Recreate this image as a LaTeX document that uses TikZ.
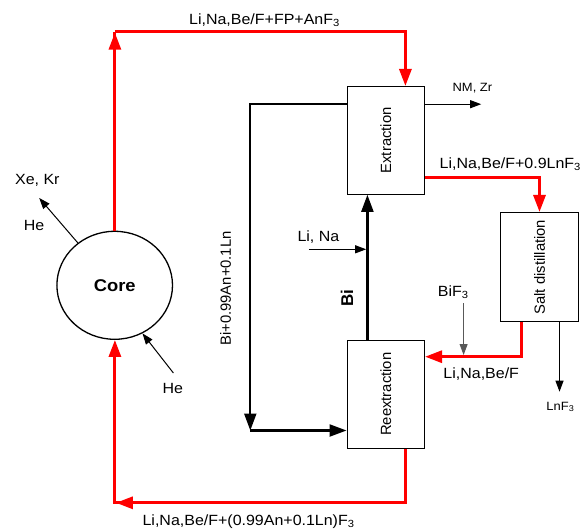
\documentclass[tikz,border=0pt]{standalone}
\usepackage{fontspec}
\setmainfont{Liberation Sans}
\usetikzlibrary{arrows.meta,shapes.geometric}
\begin{document}
\begin{tikzpicture}[x=1bp,y=-1bp,
  txt/.style={font=\fontsize{14.8bp}{17bp}\selectfont, inner sep=0pt, xscale=1.08},
  vtxt/.style={font=\fontsize{14.8bp}{17bp}\selectfont, inner sep=0pt, rotate=90},
  smalltxt/.style={font=\fontsize{12bp}{14bp}\selectfont, inner sep=0pt, xscale=1.08},
  boldtxt/.style={font=\fontsize{17bp}{20bp}\selectfont\bfseries, inner sep=0pt},
  box/.style={draw, line width=1bp, minimum width=77.5bp, inner sep=0pt},
  redflow/.style={draw=red, line width=3bp, line join=miter},
  bigtip/.style={-{Triangle[length=17bp,width=12bp]}},
  blackflow/.style={draw=black, line width=2.2bp, line join=miter},
  thinflow/.style={draw=black, line width=1bp, -{Triangle[length=11bp,width=8bp]}},
  grayflow/.style={draw=black!65, line width=1bp, -{Triangle[length=11bp,width=8bp]}}
]
\useasboundingbox (0,0) rectangle (583,529);

% nodes
\node[ellipse, draw, line width=1.3bp, minimum width=115.6bp, minimum height=108bp, inner sep=0pt] (core) at (114.7,285.3) {};
\node[boldtxt, xscale=1.08] (coretxt) at (core.center) {Core};
\node[box, minimum height=107.8bp] (ext) at (385.8,140.4) {};
\node[box, minimum height=108.3bp] (reext) at (385.8,394.2) {};
\node[box, minimum width=78bp, minimum height=109.2bp] (salt) at (539.5,267.1) {};
\node[vtxt] (exttxt) at (ext.center) {Extraction};
\node[vtxt] (reexttxt) at (reext.center) {Reextraction};
\node[vtxt] (salttxt) at (salt.center) {Salt distillation};

% labels
\node[txt] (l1) at (264.5,20.5) {Li,Na,Be/F+FP+AnF\textsubscript{3}};
\node[txt] (l2) at (510.3,164) {Li,Na,Be/F+0.9LnF\textsubscript{3}};
\node[txt] (l3) at (481.2,374.5) {Li,Na,Be/F};
\node[txt] (l4) at (248.6,521.5) {Li,Na,Be/F+(0.99An+0.1Ln)F\textsubscript{3}};
\node[smalltxt] (l5) at (472.4,88) {NM, Zr};
\node[txt] (l6) at (37.3,180) {Xe, Kr};
\node[txt] (l7) at (34.1,225) {He};
\node[txt] (l8) at (172.9,388) {He};
\node[txt] (l9) at (318.4,237) {Li, Na};
\node[txt] (l10) at (453.2,292) {BiF\textsubscript{3}};
\node[smalltxt] (l11) at (560.4,407) {LnF\textsubscript{3}};
\node[vtxt] (l12) at (225.7,288.5) {Bi+0.99An+0.1Ln};
\node[boldtxt, rotate=90] (l13) at (346.9,298) {Bi};

% coordinates
\coordinate (tl) at (114.9,31.7);
\coordinate (tr) at (405.4,31.7);
\coordinate (er) at (539.5,177.5);
\coordinate (sb) at (521.1,356.7);
\coordinate (rb) at (405.4,502.8);
\coordinate (bl) at (114.9,502.8);
\coordinate (bk1) at (250.3,104.2);
\coordinate (bk2) at (250.3,430.5);
\coordinate (nmz) at (481.2,104.2);
\coordinate (bix) at (367.4,300);
\coordinate (lina) at (308.8,249.3);
\coordinate (linab) at (366.2,249.3);
\coordinate (bif1) at (463.6,303);
\coordinate (bif2) at (463.6,355);
\coordinate (lnf) at (559.5,391.7);
\coordinate (xekr) at (39.2,198);
\coordinate (he2) at (173.4,373);

% red flows
\draw[redflow] (core.north -| tl) -- (tl);
\draw[redflow, bigtip, shorten >=1bp] (core.north -| tl) -- (tl);
\draw[redflow, bigtip] (tl) -- (tr) -- (ext.north -| tr);
\draw[redflow, bigtip] (ext.east |- er) -- (er) -- (salt.north);
\draw[redflow, bigtip] (salt.south -| sb) -- (sb) -- (reext.east |- sb);
\draw[redflow, bigtip] (reext.south -| rb) -- (rb) -- (bl) -- (core.south -| bl);
\draw[redflow, bigtip, shorten >=1bp] (rb) -- (bl);

% black flows
\draw[blackflow, bigtip] (ext.west |- bk1) -- (bk1) -- (bk2);
\draw[blackflow, bigtip] (bk2) -- (reext.west |- bk2);
\draw[blackflow, bigtip] (reext.north -| bix) -- (ext.south -| bix);

% thin arrows
\draw[thinflow] (ext.east |- nmz) -- (nmz);
\draw[thinflow] (lina) -- (linab);
\draw[grayflow] (bif1) -- (bif2);
\draw[thinflow] (salt.south -| lnf) -- (lnf);
\draw[thinflow] (core.131) -- (xekr);
\draw[thinflow] (he2) -- (core.-60);
\end{tikzpicture}
\end{document}
